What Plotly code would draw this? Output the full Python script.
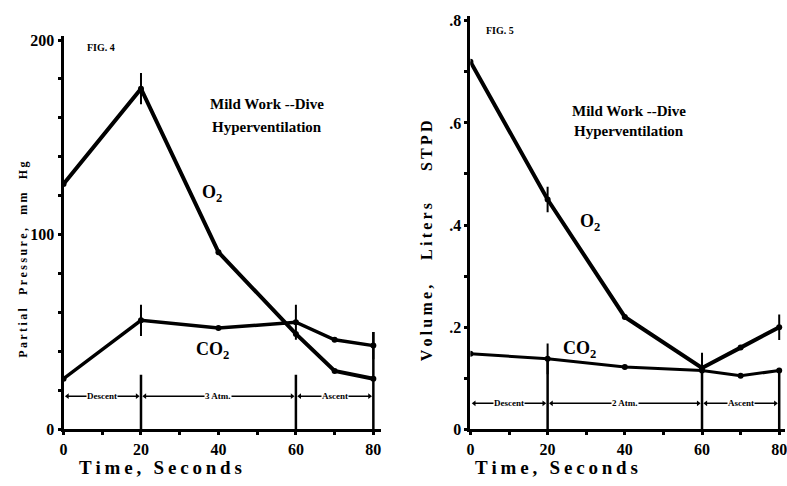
import plotly.graph_objects as go

# Time points (seconds)
time_s = [0, 20, 40, 60, 70, 80]

# Fig. 4: partial pressures, mm Hg
pp_o2 = [126, 175, 91, 49, 30, 26]
pp_co2 = [26, 56, 52, 55, 46, 43]

# Fig. 5: volumes, liters STPD
vol_o2 = [0.72, 0.45, 0.22, 0.12, 0.16, 0.20]
vol_co2 = [0.148, 0.138, 0.122, 0.115, 0.105, 0.115]

# spread bars drawn at selected points (0 = none)
pp_o2_err = [0, 8, 0, 0, 0, 0]
pp_co2_err = [0, 8, 0, 9, 0, 7]
vol_o2_err = [0, 0.025, 0, 0, 0, 0.025]
vol_co2_err = [0, 0.03, 0, 0.035, 0, 0]

# dive phases
phase_bounds = [0, 20, 60, 80]
phase_names_4 = ["Descent", "3 Atm.", "Ascent"]
phase_names_5 = ["Descent", "2 Atm.", "Ascent"]

x_ticks = [0, 10, 20, 30, 40, 50, 60, 70, 80]
x_ticktext = ["0", "", "20", "", "40", "", "60", "", "80"]
pp_ticks = list(range(0, 201, 20))
pp_ticktext = ["0", "", "", "", "", "100", "", "", "", "", "200"]
vol_ticks = [0, 0.1, 0.2, 0.3, 0.4, 0.5, 0.6, 0.7, 0.8]
vol_ticktext = ["0", "", ".2", "", ".4", "", ".6", "", ".8"]

SERIF = "Liberation Serif"
INK = "black"

fig = go.Figure()


def err_dict(vals):
    return dict(type="data", array=vals, arrayminus=vals, visible=True,
                color=INK, thickness=2, width=0)


def add_series(x, y, err, xa, ya, lw):
    fig.add_trace(go.Scatter(
        x=x, y=y, mode="lines+markers", xaxis=xa, yaxis=ya,
        line=dict(color=INK, width=lw),
        marker=dict(color=INK, size=6),
        error_y=err_dict(err), showlegend=False, hoverinfo="skip"))


add_series(time_s, pp_o2, pp_o2_err, "x", "y", 4)
add_series(time_s, pp_co2, pp_co2_err, "x", "y", 3.5)
add_series(time_s, vol_o2, vol_o2_err, "x2", "y2", 4)
add_series(time_s, vol_co2, vol_co2_err, "x2", "y2", 3)


def add_phases(xa, ya, level, div_tops, names):
    # vertical dividers between phases
    for b, top in zip(phase_bounds[1:], div_tops):
        fig.add_trace(go.Scatter(
            x=[b, b], y=[0, top], mode="lines", xaxis=xa, yaxis=ya,
            line=dict(color=INK, width=2.5), showlegend=False,
            hoverinfo="skip"))
    # arrowed span per phase with its label
    for (a, b), name in zip(zip(phase_bounds[:-1], phase_bounds[1:]), names):
        fig.add_trace(go.Scatter(
            x=[a + 1, b - 1], y=[level, level], mode="lines+markers",
            xaxis=xa, yaxis=ya,
            line=dict(color=INK, width=1.5),
            marker=dict(symbol=["triangle-left", "triangle-right"],
                        size=5, color=INK),
            showlegend=False, hoverinfo="skip"))
        fig.add_annotation(
            x=(a + b) / 2, y=level, xref=xa, yref=ya, text=name,
            showarrow=False, bgcolor="white", borderpad=0,
            font=dict(family=SERIF, size=9, color=INK, weight="bold"))


add_phases("x", "y", 17, [28, 28, 50], phase_names_4)
add_phases("x2", "y2", 0.051,
           [min(vol_o2[time_s.index(b)], vol_co2[time_s.index(b)])
            for b in phase_bounds[1:]],
           phase_names_5)

axis_common = dict(showline=True, linecolor=INK, linewidth=3, mirror=False,
                   showgrid=False, zeroline=False, ticks="outside",
                   ticklen=3, tickwidth=2.5, tickcolor=INK,
                   ticklabeloverflow="allow",
                   tickfont=dict(family=SERIF, size=16, color=INK,
                                 weight="bold"))

fig.update_layout(
    width=787, height=486,
    margin=dict(l=0, r=0, t=0, b=0),
    paper_bgcolor="white", plot_bgcolor="white",
    xaxis=dict(domain=[60 / 787, 380 / 787], range=[0, 82], anchor="y",
               tickvals=x_ticks, ticktext=x_ticktext, **axis_common),
    yaxis=dict(domain=[49 / 486, 453 / 486], range=[0, 202], anchor="x",
               tickvals=pp_ticks, ticktext=pp_ticktext, **axis_common),
    xaxis2=dict(domain=[470 / 787, 1.0], range=[0, 81.5], anchor="y2",
                tickvals=x_ticks, ticktext=x_ticktext, **axis_common),
    yaxis2=dict(domain=[49 / 486, 474 / 486], range=[0, 0.81], anchor="x2",
                tickvals=vol_ticks, ticktext=vol_ticktext, **axis_common),
)


def spaced(s, gap="&#8202;"):
    # letter-spaced rendering of a caption
    return gap.join("&#160;" if c == " " else c for c in s)


text_font = dict(family=SERIF, size=15, color=INK, weight="bold")
label_font = dict(family=SERIF, size=18, color=INK, weight="bold")
fig_font = dict(family=SERIF, size=10, color=INK, weight="bold")
time_font = dict(family=SERIF, size=19, color=INK, weight="bold")

notes = [
    # (x, y, text, font, angle)
    (98, 45, "FIG. 4", fig_font, 0),
    (500, 27, "FIG. 5", fig_font, 0),
    (265, 103, "Mild Work --Dive", text_font, 0),
    (265, 126, "Hyperventilation", text_font, 0),
    (630, 110, "Mild Work --Dive", text_font, 0),
    (630, 131, "Hyperventilation", text_font, 0),
    (210, 195, "O<sub>2</sub>", label_font, 0),
    (210, 356, "CO<sub>2</sub>", label_font, 0),
    (590, 225, "O<sub>2</sub>", label_font, 0),
    (580, 355, "CO<sub>2</sub>", label_font, 0),
    (158, 476, spaced("Time, Seconds", "&#8201;"), time_font, 0),
    (557, 476, spaced("Time, Seconds", "&#8201;"), time_font, 0),
    (19, 263, spaced("Partial  Pressure,  mm  Hg", "&#8201;"),
     dict(family=SERIF, size=12, color=INK, weight="bold"), -90),
    (426, 243, spaced("Volume,   Liters    STPD", "&#8201;"),
     dict(family=SERIF, size=16, color=INK, weight="bold"), -90),
]
for px, py, txt, fnt, ang in notes:
    fig.add_annotation(x=px / 787, y=1 - py / 486, xref="paper", yref="paper",
                       text=txt, showarrow=False, font=fnt, textangle=ang,
                       xanchor="center", yanchor="middle")

fig.write_html("out.html")
